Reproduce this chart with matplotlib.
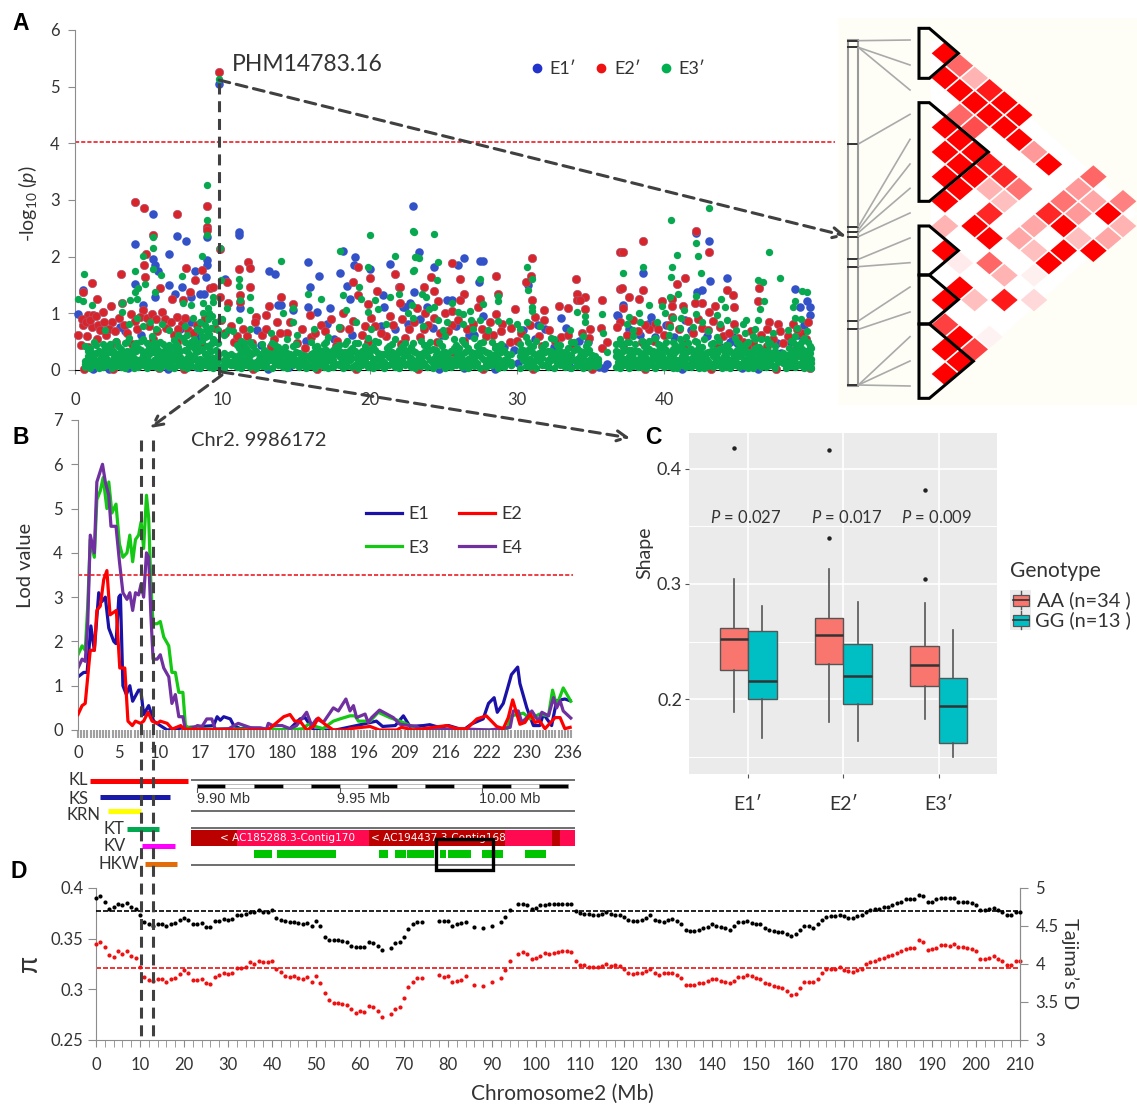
import matplotlib
matplotlib.use("Agg")
from matplotlib import pyplot as plt
from matplotlib.collections import PolyCollection
from matplotlib.patches import Polygon, Rectangle
from matplotlib.lines import Line2D
from matplotlib.ticker import MultipleLocator, FixedLocator

plt.rcParams['font.family'] = ['Lato', 'DejaVu Sans']
plt.rcParams['mathtext.fontset'] = 'custom'
plt.rcParams['mathtext.rm'] = 'Lato'
plt.rcParams['mathtext.it'] = 'Lato:italic'

W, H = 1137, 1107
GRAY = '#8c8c8c'
TXT = '#333333'
DASH = '#404040'
BLUE, RED, GREEN = '#3352c8', '#d8252b', '#07a84f'

# ---- panel A: manhattan, upper points read one by one
a_blue = [(9.78,5.04),(5.3,2.76),(6.9,2.36),(7.53,2.28),(4.07,2.22),(6.4,2.04),(8.94,2.35),(8.98,1.94),(8.98,1.85),
          (11.15,2.44),(11.15,2.38),(5.3,1.96),(5.43,1.85),(5.66,1.75),(8.14,1.75),(8.9,1.64),(4.07,1.52),(6.4,1.5),
          (7.24,1.46),(6.8,1.35),(5.4,1.29),(7.85,1.29),(8.5,1.34),(8.76,1.34),(10.2,1.6),(13.2,1.74),(13.6,1.69),
          (15.84,1.9),(16.6,1.66),(15.95,1.46),(18.2,2.1),(19,2),(18.94,1.85),(18,1.72),(20,1.78),(21.4,1.87),
          (22.96,2.9),(23.35,2.09),(18.44,1.48),(18.7,1.26),(20.9,1.32),(23,1.38),(14,1.15),(14.8,1.06),(15.84,1.12),
          (17.3,1.1),(16.4,1.03),(11.2,1.09),(.23,.98),(.57,1.41),(3.05,.76),(4.64,1.15),(13.8,1.15),(12.33,.7),
          (22.4,1.12),(21,1.12),(26.43,1.98),(26,1.86),(24.39,1.81),(27.49,1.92),(27.72,1.92),(27.42,1.56),
          (25.57,1.24),(25.23,1.24),(22.74,1.18),(22.29,1.12),(23.87,1.12),(27.72,.95),(30.77,1.5),(32.97,.92),
          (33.37,.75),(31.9,.72),(26.77,.62),(31.45,.79),(36.77,.97),(36.09,.1),(35.6,.06),(42.16,2.41),(43.06,2.28),
          (38.58,1.72),(43.11,1.57),(44.24,1.63),(42.54,1.41),(42.25,1.38),(48.88,1.43),(49.67,1.22),(49.89,1.11),
          (49.89,.97),(37.22,1.15),(36.89,.95),(39.08,.94),(49.22,1.12),(44.69,.59),(41.41,.88),(44.92,.48),(45.6,.41),
          (47.63,.47),(39.37,.59),(38.36,.62),(1.2,.02),(2.3,.01),(3.6,.03),(6.3,.02),(8.3,.06),(10.4,.12),(10.9,.09),
          (13.1,.02),(14.5,.05),(15.5,.15),(16.9,.3),(19.6,.24),(21.9,.1),(24.7,.02),(26.4,.03),(28.5,.02),(30.1,.12),
          (33.6,.06),(35.9,.04),(41.2,.02),(45.3,.03),(46.4,.02),(48.2,.2),(47.9,.3),(12.6,.45),(17.6,.55),(24.9,.62),
          (29.1,.4),(34.2,.52),(40.7,.58),(44.5,.5),(3.4,.68),(4.5,.62),(7.1,.72),(7.9,.85),(8.4,.58),(13.3,.42),
          (15.7,.52),(17.1,.82),(18.8,.62),(20.8,.78),(21.7,.72),(22.6,.82),(23.4,.9),(24.3,.74),(25.9,.78),(27.1,.62),
          (29.8,.35),(30.4,.7),(31.2,.55),(32.5,.4),(34.8,.5),(37.6,.72),(38.9,.82),(40.1,.8),(41.8,.7),(42.9,.6),
          (43.7,.42),(46.6,.36),(48.6,.5),(49.5,.8),(49.1,.62)]
a_red = [(9.78,5.26),(4.07,2.96),(4.7,2.86),(6.9,2.75),(8.94,2.9),(8.94,2.53),(8.94,2.47),(5.3,2.38),(9.84,2.13),
         (4.8,2.05),(4.7,1.85),(4.75,1.65),(3.1,1.7),(1.13,1.53),(.52,1.38),(1.47,1.26),(7.53,1.8),(8.6,1.76),
         (8.14,1.58),(11.76,1.91),(11.9,1.8),(11.15,1.78),(10.3,1.55),(11.88,1.47),(9.16,1.44),(9.4,1.46),(5.77,1.44),
         (6.56,1.26),(11.2,1.32),(11.2,1.2),(19.2,1.81),(20,1.62),(18.9,1.56),(21.7,1.69),(22,1.47),(20.5,1.39),
         (14,1.28),(14.8,1.16),(13.2,1.13),(9.84,1.28),(10.4,1.19),(2.44,1.13),(1.92,1.03),(3.2,1.19),(4.64,1.06),
         (.23,.62),(.9,.97),(1.24,.97),(.57,.79),(1.13,.76),(1.58,.79),(2.49,.85),(7.24,.82),(6.9,.94),(7.35,1.24),
         (7.8,1.38),(13,.97),(13.7,.85),(19.9,1.16),(21.4,.95),(16.7,.79),(15.95,.97),(19.2,1.32),(12.3,.94),
         (12.2,.85),(18.2,1.0),(25.57,1.88),(28.58,1.66),(26.13,1.61),(24.14,1.65),(23.69,1.47),(24.39,1.4),
         (26.43,1.35),(31,1.97),(30.95,1.66),(30.6,1.56),(28.73,1.34),(24.66,1.22),(26.13,1.24),(27.49,1.25),
         (27.33,1.12),(29.87,1.08),(31,1.24),(31.83,1.06),(32.87,1.13),(33.44,1.09),(34,1.61),(34.05,1.35),
         (34.05,1.24),(34.6,1.28),(34.28,1.24),(34.6,1.07),(35.75,1.24),(37,2.08),(37,1.43),(31.83,.89),(31.22,.94),
         (28.58,.99),(25.1,1),(25.57,1.05),(25.57,.79),(23.19,1.09),(23.76,1),(22.06,1.47),(22.06,1.19),(35.68,.75),
         (36.13,.5),(35.75,.38),(34.96,.73),(29.53,.5),(29.6,.74),(25.57,.31),(28.4,.62),(22.4,.56),(23.42,.59),
         (42.16,2.46),(38.58,2.28),(37.18,2.08),(43.06,2.08),(40.84,1.51),(41.41,1.63),(37.13,1.44),(38.54,1.41),
         (44.24,1.42),(46.46,1.45),(37.61,1.29),(38.31,1.25),(39.83,1.22),(40.51,1.26),(40.51,1.13),(44.69,1.32),
         (42.54,1.19),(42.09,1.19),(41.3,1.13),(43.45,1.13),(44.76,1.12),(46.34,1.22),(43.06,1.02),(37.22,1.09),
         (40.51,.93),(47.13,.84),(47.75,.82),(44.74,.82),(37,.84),(49.78,.84),(46.95,.72),(48.76,.82),(39.37,.82),
         (38.24,.68),(47.86,.68),(36.77,.76),(43.79,.76),(46.05,.48),(45.37,.5),(38.47,.5),(41.98,.65),
         (.4,.45),(.8,.6),(1.5,.55),(2.1,.62),(2.8,.5),(3.5,.66),(4.2,.72),(5.0,.78),(5.6,.68),(6.2,.74),(6.7,.62),
         (7.7,.7),(8.3,.8),(9.5,.75),(10.8,.5),(11.4,.72),(12.7,.62),(13.5,.55),(14.4,.66),(15.1,.48),(16.0,.58),
         (17.0,.68),(17.8,.52),(18.6,.72),(19.5,.62),(20.4,.78),(21.1,.6),(22.7,.72),(24.0,.8),(24.8,.66),(26.6,.72),
         (27.9,.6),(29.0,.82),(30.3,.66),(32.2,.7),(33.0,.58),(34.4,.66),(37.5,.62),(39.0,.72),(40.0,.62),(42.6,.75),
         (44.0,.6),(45.9,.68),(48.4,.6),(49.3,.66),(.6,.02),(2.6,.01),(5.7,.03),(7.4,.02),(12.1,.02),(16.4,.02),
         (19.1,.02),(23.3,.01),(27.7,.01),(31.1,.02),(35.1,.02),(38.7,.02),(43.2,.01),(47.6,.02),(49.9,.03),
         (.5,.9),(.75,.85),(1.0,.88),(1.4,.95),(1.7,.7),(2.0,.85),(2.3,.72),(2.7,.68),(3.0,.92),(3.3,.8),(3.8,.98),
         (4.1,.86),(4.4,.94),(4.9,.92),(5.2,.98),(5.5,.9),(5.9,1.02),(6.1,.9),(6.5,.84),(7.0,.72),(7.5,.92),(8.0,.66),
         (8.8,.92),(9.9,.88),(10.2,.66),(10.6,.78),(11.0,.6),(11.7,.6),(12.0,.48),(13.0,.72),(13.9,.66),(14.6,.84),
         (15.4,.72),(16.3,.66),(17.4,.9),(18.0,.74),(18.9,.86),(19.7,.78),(20.1,.92),(20.8,.66),(21.6,.8),(22.2,.9),
         (23.0,.85),(23.7,.72),(24.4,.92),(25.3,.68),(26.0,.88),(27.0,.82),(27.6,.72),(28.2,.84),(28.9,.68),(30.0,.52),
         (30.9,.8),(31.5,.6),(32.6,.52),(33.5,.62),(34.9,.56),(37.9,.88),(38.7,.8),(39.6,.72),(40.3,.8),(41.0,.72),
         (41.6,.86),(42.3,.9),(43.0,.7),(43.3,.86),(44.4,.66),(45.0,.56),(46.6,.62),(47.4,.55),(48.1,.48),(49.0,.72),
         (49.6,.55),(.9,.4),(2.4,.42),(3.9,.46),(5.3,.55),(6.9,.5),(8.6,.44),(11.2,.42),(13.3,.4),(15.6,.38),(17.7,.42),
         (19.9,.5),(22.1,.46),(24.6,.5),(26.4,.52),(28.6,.4),(31.7,.42),(33.8,.4),(37.2,.45),(39.3,.52),(41.4,.46),
         (43.6,.45),(45.6,.4),(47.0,.42),(49.0,.42)]
a_green = [(9.78,5.13),(8.94,3.26),(8.94,2.65),(8.94,2.38),(5.3,2.35),(5.3,2.16),(9.84,2.15),(8.64,2.01),(4.64,2.01),
           (5.27,1.79),(5.81,1.68),(7.24,1.66),(4.07,1.75),(.63,1.69),(.23,1.26),(.52,1.21),(1.13,1.15),(4.75,1.52),
           (9.9,1.59),(11.15,1.6),(11.15,1.48),(11.2,1.24),(11.9,1.28),(14,1.93),(18,2.1),(19.9,1.81),(20,2.38),
           (21.7,2.01),(23,2.44),(23,1.76),(23.1,1.99),(15.84,1.34),(16.7,1.25),(18.2,1.32),(19.3,1.47),(19.4,1.26),
           (20.4,1.24),(22,1.35),(21.4,1.29),(4.07,1.38),(4.3,1.44),(5.43,1.38),(3.17,1.18),(3.73,1.24),(4.19,1.26),
           (3.17,1.03),(7.35,1.18),(7.9,1.15),(8.7,1.18),(9.4,1.29),(14.1,1.0),(14.8,1.09),(14.8,.85),(11.15,.88),
           (11.9,1.06),(18.4,1.06),(19.9,1.03),(20.6,1.07),(2.04,.71),(8.9,.7),(9,.9),(9,1.1),(8.8,.8),(9.1,1.0),
           (9.2,.75),(10,.9),(10.3,1.1),(10.4,.7),(8.7,1.0),(8.6,.6),(9.4,1.2),(8.5,.85),(9.3,.95),
           (22.96,2.45),(24.39,2.4),(23.12,2.0),(23.35,1.98),(24.62,1.9),(22.96,1.75),(24.59,1.59),(27.49,1.61),
           (30.66,1.82),(31,1.61),(30.73,1.42),(23.53,1.35),(23.82,1.28),(28.73,1.31),(28.73,1.21),(27.67,1.16),
           (25.57,1.18),(22.85,1.15),(24.05,1.07),(24.39,1.12),(26.81,1.05),(26,1.03),(26.36,.99),(31,1.12),(31,1.05),
           (35.75,.99),(34.05,1.03),(34.6,.95),(34.6,.85),(29.48,.87),(29.98,.81),(26.86,.88),(28.73,.87),(27.49,.89),
           (24.66,.88),(22.63,1),(22.96,.91),(30.66,.84),(28.06,.71),(26.31,.82),(25.23,.85),(32.35,.56),(35.86,.65),
           (36.13,.32),(34.84,.47),(43.06,2.86),(40.44,2.64),(42.16,2.25),(40.84,2.03),(42.27,2.01),(47.09,2.09),
           (37.18,1.72),(38.58,1.81),(40.51,1.81),(40.46,1.64),(42.52,1.71),(47.86,1.63),(46.34,1.58),(46.68,1.56),
           (49.33,1.4),(49.67,1.37),(40.96,1.34),(40.39,1.29),(42.16,1.31),(43.83,1.26),(46.79,1.22),(48.88,1.21),
           (38.99,1.14),(39.83,1.13),(44.12,1.12),(43.56,.97),(41.34,1.06),(40.05,1),(38.31,1.01),(37.61,.94),
           (44.24,.88),(45.55,.89),(45.37,.81),(46.5,1.07),(46.39,.88),(48.76,1.11),(48.88,.91),(42.16,.99),(41.12,.91),
           (38.36,.85),(43.79,.82),(46.16,.72),(37.45,.82),(45.48,.65),(49,.74),(40.39,.76),(41.07,.75),(47.4,.65),
           (49.67,.68),(41.98,.76),(42.99,.68),
           (3.7,.82),(4.2,.92),(4.6,.78),(5.1,.85),(5.5,.72),(5.9,.82),(6.4,.7),(7.0,.62),(7.5,.78),(8.0,.92),(8.3,.72),
           (9.5,.85),(9.7,.7),(10.1,.62),(10.7,.68),(11.9,.72),(13.3,.66),(15.1,.62),(16.2,.72),(17.9,.76),(19.1,.85),
           (20.1,.72),(21.1,.82),(23.6,.78),(25.0,.7),(27.0,.72),(30.2,.72),(31.6,.78),(33.6,.7),(37.9,.7),(39.5,.85),
           (40.6,.92),(42.6,.85),(44.9,.7),(47.0,.55),(48.4,.7),(49.3,.9)]

# dense green base of the cloud, several heights at each position
base_x = [0.7,1.0,1.3,1.6,1.9,2.2,2.5,2.8,3.1,3.4,
          3.7,4.0,4.3,4.6,4.9,5.2,5.5,5.8,6.1,6.4,
          6.7,7.0,7.3,7.6,7.9,8.2,8.5,8.8,9.1,9.4,
          9.7,10.1,10.6,11.0,11.3,11.6,11.9,12.3,12.7,13.0,
          13.4,13.8,14.1,14.4,14.8,15.2,15.7,16.0,16.3,16.6,
          16.9,17.2,17.5,17.9,18.2,18.5,18.8,19.2,19.5,19.9,
          20.2,20.6,21.0,21.3,21.7,22.0,22.4,22.8,23.1,23.5,
          23.9,24.3,24.7,25.1,25.5,25.9,26.3,26.7,27.1,27.5,
          27.9,28.3,28.7,29.1,29.6,30.2,30.6,30.9,31.3,31.7,
          32.1,32.5,32.9,33.3,33.7,34.1,34.5,34.9,35.3,36.7,
          37.0,37.3,37.6,37.9,38.2,38.5,38.8,39.1,39.4,39.7,
          40.0,40.3,40.6,40.9,41.2,41.5,41.8,42.1,42.4,42.7,
          43.0,43.3,43.6,43.9,44.2,44.5,44.8,45.1,45.4,45.7,
          46.0,46.3,46.6,46.9,47.2,47.5,48.3,48.6,48.9,49.2,
          49.5,49.8,50.0]
base_low = [.05,.03,.08,.04,.06,.09,.03,.07,.05,.04,
            .08,.03,.06,.09,.04,.07,.05,.03,.08,.06,
            .04,.09,.05,.03,.07,.06,.04,.08,.05,.03,
            .07,.04,.09,.05,.03,.08,.06,.04,.07,.05,
            .03,.08,.06,.04,.09,.05,.03,.07,.04,.08,
            .05,.03,.06,.09,.04,.07,.05,.03,.08,.06,
            .04,.07,.03,.09,.05,.04,.08,.06,.03,.07,
            .05,.04,.09,.03,.06,.08,.05,.04,.07,.03,
            .06,.09,.04,.05,.08,.03,.07,.05,.04,.09,
            .06,.03,.08,.05,.04,.07,.03,.06,.09,.05,
            .04,.08,.03,.07,.05,.06,.04,.09,.03,.08,
            .05,.07,.04,.03,.09,.06,.05,.08,.04,.03,
            .07,.05,.09,.04,.06,.03,.08,.05,.07,.04,
            .03,.09,.06,.05,.08,.04,.03,.07,.05,.09,
            .04,.06,.03]
base_mid = [.16,.22,.27,.18,.24,.2,.15,.28,.19,.25,
            .3,.21,.17,.26,.23,.31,.19,.27,.22,.16,
            .29,.24,.18,.33,.25,.2,.36,.28,.31,.22,
            .26,.17,.14,.23,.29,.2,.26,.15,.24,.18,
            .27,.21,.16,.3,.23,.17,.13,.28,.22,.19,
            .26,.31,.18,.24,.16,.29,.21,.27,.17,.25,
            .2,.3,.15,.23,.28,.18,.26,.21,.16,.29,
            .24,.19,.27,.32,.17,.23,.28,.2,.3,.25,
            .16,.26,.22,.18,.15,.24,.3,.19,.27,.21,
            .17,.29,.23,.16,.26,.2,.31,.18,.13,.24,
            .28,.19,.25,.3,.17,.27,.22,.16,.29,.23,
            .2,.3,.26,.18,.24,.31,.19,.27,.21,.28,
            .16,.25,.3,.2,.23,.17,.29,.24,.18,.26,
            .31,.21,.28,.16,.25,.22,.14,.27,.3,.24,
            .29,.26,.2]
base_high = [.42,.38,.5,.33,.46,.41,.35,.52,.37,.48,
             .57,.44,.39,.55,.47,.6,.42,.5,.36,.45,
             .53,.41,.56,.62,.49,.43,.68,.58,.64,.55,
             .47,.3,.28,.44,.52,.39,.5,.34,.46,.31,
             .48,.4,.33,.54,.42,.3,.25,.5,.41,.36,
             .46,.58,.35,.44,.3,.52,.38,.48,.33,.56,
             .4,.5,.29,.43,.55,.36,.47,.41,.31,.52,
             .45,.37,.5,.6,.33,.44,.53,.39,.56,.47,
             .32,.5,.43,.35,.28,.46,.58,.38,.52,.41,
             .34,.55,.45,.31,.5,.38,.6,.35,.24,.46,
             .54,.37,.49,.6,.33,.52,.43,.31,.56,.45,
             .38,.62,.5,.35,.46,.58,.37,.52,.4,.55,
             .31,.48,.58,.38,.44,.33,.56,.46,.35,.5,
             .6,.4,.54,.31,.48,.42,.27,.52,.6,.46,
             .56,.5,.38]
base_extra = [.11,.14,.17,.12,.3,.14,.1,.18,.29,.15,
              .19,.34,.12,.17,.33,.14,.3,.16,.13,.31,
              .19,.33,.12,.22,.16,.32,.2,.18,.21,.13,
              .17,.11,.08,.14,.19,.3,.16,.1,.15,.12,
              .18,.32,.11,.2,.15,.11,.07,.19,.32,.13,
              .17,.21,.11,.33,.1,.2,.31,.18,.11,.36,
              .13,.2,.09,.32,.19,.12,.35,.14,.1,.2,
              .34,.13,.18,.22,.11,.33,.19,.13,.21,.35,
              .11,.18,.32,.12,.09,.34,.2,.12,.18,.31,
              .11,.2,.34,.1,.18,.13,.21,.11,.07,.33,
              .19,.12,.36,.21,.11,.18,.32,.1,.2,.34,
              .13,.21,.37,.12,.33,.21,.12,.18,.32,.2,
              .11,.34,.21,.13,.33,.11,.2,.35,.12,.18,
              .22,.32,.2,.11,.17,.33,.09,.18,.21,.35,
              .2,.18,.13]
# second set of cloud positions between the first
fill_x = [.85,1.15,1.45,1.75,2.05,2.35,2.65,2.95,3.25,3.55,
          3.85,4.15,4.45,4.75,5.05,5.35,5.65,5.95,6.25,6.55,
          6.85,7.15,7.45,7.75,8.05,8.35,8.65,8.95,9.25,9.55,
          10.3,10.8,11.15,11.45,11.75,12.1,12.5,12.85,13.2,13.6,
          13.95,14.25,14.6,15,15.45,16.15,16.45,16.75,17.05,17.35,
          17.7,18.05,18.35,18.65,19,19.35,19.7,20.05,20.4,20.8,
          21.15,21.5,21.85,22.2,22.6,22.95,23.3,23.7,24.1,24.5,
          24.9,25.3,25.7,26.1,26.5,26.9,27.3,27.7,28.1,28.5,
          28.9,29.35,30.4,30.75,31.1,31.5,31.9,32.3,32.7,33.1,
          33.5,33.9,34.3,34.7,35.1,36.85,37.15,37.45,37.75,38.05,
          38.35,38.65,38.95,39.25,39.55,39.85,40.15,40.45,40.75,41.05,
          41.35,41.65,41.95,42.25,42.55,42.85,43.15,43.45,43.75,44.05,
          44.35,44.65,44.95,45.25,45.55,45.85,46.15,46.45,46.75,47.05,
          47.35,48.45,48.75,49.05,49.35,49.65,49.9,48.1,47.7,35.5]
fill_low = [.12,.09,.14,.17,.1,.13,.18,.11,.15,.08,
            .16,.12,.19,.1,.14,.17,.09,.13,.16,.11,
            .18,.12,.09,.15,.19,.11,.14,.17,.1,.13,
            .11,.08,.16,.12,.18,.1,.14,.09,.17,.11,
            .15,.13,.1,.18,.12,.09,.16,.11,.14,.18,
            .1,.15,.12,.17,.09,.13,.16,.11,.19,.12,
            .09,.15,.11,.17,.13,.1,.16,.12,.18,.09,
            .14,.11,.17,.13,.1,.16,.12,.19,.09,.15,
            .11,.14,.17,.1,.13,.16,.09,.18,.12,.15,
            .1,.17,.13,.11,.08,.15,.12,.18,.1,.14,
            .16,.09,.13,.19,.11,.15,.12,.17,.1,.14,
            .18,.09,.13,.16,.11,.17,.1,.14,.12,.18,
            .09,.15,.13,.11,.17,.1,.16,.12,.14,.18,
            .09,.13,.17,.11,.15,.1,.16,.12,.14,.08]
fill_mid = [.24,.2,.3,.22,.27,.32,.23,.28,.21,.34,
            .26,.33,.36,.21,.28,.35,.24,.31,.22,.27,
            .33,.23,.36,.29,.38,.34,.37,.42,.33,.35,
            .18,.16,.27,.32,.24,.3,.2,.25,.22,.31,
            .25,.28,.2,.32,.19,.21,.29,.24,.35,.2,
            .28,.23,.32,.26,.34,.22,.29,.24,.36,.2,
            .27,.32,.21,.3,.24,.34,.2,.31,.35,.26,
            .3,.22,.38,.27,.32,.23,.3,.35,.22,.27,
            .32,.2,.26,.35,.3,.22,.32,.25,.31,.22,
            .27,.35,.24,.3,.18,.23,.31,.35,.26,.33,
            .22,.3,.37,.24,.33,.27,.35,.22,.31,.38,
            .26,.34,.23,.35,.29,.22,.33,.26,.37,.24,
            .31,.22,.35,.27,.33,.23,.38,.29,.24,.33,
            .22,.27,.35,.31,.37,.25,.3,.22,.2,.14]
fill_high = [.34,.3,.44,.28,.38,.46,.32,.42,.3,.5,
             .36,.48,.52,.32,.42,.5,.36,.46,.31,.4,
             .46,.34,.5,.42,.55,.48,.52,.6,.46,.5,
             .26,.24,.38,.47,.33,.42,.28,.36,.3,.44,
             .35,.4,.29,.46,.26,.3,.42,.34,.5,.28,
             .4,.32,.46,.36,.48,.3,.42,.34,.52,.28,
             .38,.46,.3,.42,.34,.48,.28,.44,.5,.36,
             .42,.3,.54,.38,.46,.32,.42,.5,.3,.38,
             .46,.28,.36,.5,.42,.3,.46,.34,.44,.3,
             .38,.5,.34,.42,.26,.32,.44,.5,.36,.46,
             .3,.42,.52,.34,.46,.38,.5,.3,.44,.54,
             .36,.48,.32,.5,.4,.3,.46,.36,.52,.33,
             .44,.3,.5,.38,.46,.32,.54,.4,.34,.46,
             .3,.38,.5,.44,.52,.34,.42,.3,.28,.2]
a_xticks = [0, 10, 20, 30, 40]

# ---- LD heat map: checker positions and strength of each diamond
ld_col = [0,1,0,2,1,3,2,4,1,3,5,0,2,4,1,5,0,2,6,1,3,7,0,2,4,10,1,3,5,9,0,4,8,10,12,3,7,9,11,0,2,6,8,12,3,5,9,11,
          0,6,8,10,1,3,7,4,6,1,0,2,4,6,0,1,3,0,2,1,0]
ld_row = [0,1,2,2,3,3,4,4,5,5,5,6,6,6,7,7,8,8,8,9,9,9,10,10,10,10,11,11,11,11,12,12,12,12,12,13,13,13,13,14,14,14,14,14,
          15,15,15,15,16,16,16,16,17,17,17,18,18,19,20,20,20,20,22,23,23,24,24,25,26]
ld_val = [1,.6,1,.3,1,.9,1,1,.6,1,1,1,.7,1,1,1,1,1,.4,1,.9,1,1,1,.85,.6,1,.3,.55,.4,1,.25,.55,.35,.5,.85,.85,.4,1,
          .3,1,.35,1,.3,1,.35,.25,.35,1,.25,1,1,.08,.6,1,.3,.06,1,1,.25,.9,.15,.75,1,.05,1,.75,1,1]
ld_snp_start = [92,112,112,402,650,660,668,680,748,770,933,958,1125,1125,1125]
ld_snp_end = [90,165,240,313,388,462,535,609,684,758,831,906,980,1053,1128]
ld_marks = [92,110,402,650,665,680,748,770,933,958,1125]

# ---- panel B: LOD traces along a marker index
b_labels = ['0','5','10','17','170','180','188','196','209','216','222','230','236']
b_ticks = [0,13,26,39,52,65,78,91,104,117,130,143,156]
e1_x = [0,1.8,2.9,4.1,5.2,6.6,7.6,8.7,9.8,11.4,12.1,13,13.5,14.3,15.4,16.5,17.4,19.3,20,20.9,22.5,24.1,26.2,28.4,
        33.7,43.2,44.3,45.3,46.4,48.5,49.6,51.7,54,60,62,64,67.5,70.7,72.3,75,82,88.7,95,97,101,103.6,105.7,110,112,
        115,118,122.7,125.4,129,130.7,132.5,133.5,135.4,136.7,138,140,140.7,142.9,145,147,148.2,150.8,152.4,155,156.7]
e1_y = [1.2,1.3,1.3,2.35,1.8,3.1,2.9,3.0,2.3,2.0,1.95,3.0,3.05,1.0,.8,1.0,.65,.9,.9,.35,.55,.2,.1,0,.05,.1,.3,.22,.3,
        .25,.1,.03,.05,0,.02,0,.03,.25,.28,0,0,.1,.2,.08,.1,.32,.08,.1,.12,.06,.1,0,.14,.25,.6,.73,.4,.6,.92,1.25,1.42,
        1.05,.5,.1,.1,.36,.1,.66,.7,.66]
e2_x = [0,1.3,2.3,3.9,5.2,6,7.1,8.2,9.2,10.2,12.2,13.3,14.9,15.9,17.3,18.3,19.9,20.9,22.3,23.6,25.2,26.2,28.4,30,32.7,
        33.7,52,60,61.3,65.5,67.5,69,70.7,72.8,75,76.5,78.6,81.3,85.5,86.6,93,96,101.5,103,106.8,117.4,120.6,123.8,127,
        130,133.3,135.4,137,138.4,140.7,142.3,144,145.5,147,148.7,151.9,153.5,155,156.7]
e2_y = [.35,.55,.6,1.8,1.8,2.7,2.8,3.4,3.6,2.6,2.7,1.4,1.4,.2,.1,.2,.15,.2,.4,.2,.15,.2,.15,.02,.1,.02,0,0,.05,.3,.35,
        .2,.2,0,.08,.27,.13,0,0,.03,.08,0,0,.06,0,.1,.03,.03,.25,.32,.08,.03,.28,.68,.13,.17,.36,.17,.2,.03,.28,.28,.03,.06]
e3_x = [0,1.3,2.3,3.1,3.9,5.2,6,7.1,8,9.2,9.8,10.8,12.1,13.2,14.3,15.6,16.5,17.4,18.3,19.3,20.1,20.9,21.8,22.5,23.2,
        23.9,25.2,26.2,27.3,28.9,29.9,31,32.1,33.4,34.2,35.2,40,60,67.5,71.7,73.3,78,81.3,83.4,86.6,88.2,89.3,93,95.6,
        99.3,103.6,107.8,124.8,136.5,138,141.8,144,147,149.8,151.1,152.4,154.5,156.9]
e3_y = [1.7,1.9,1.8,2.8,4.3,3.9,5.2,5.4,5.7,5.0,5.6,4.9,5.1,4.2,3.9,4.0,4.4,3.8,4.3,4.4,4.7,4.1,5.3,4.8,3.3,2.4,2.4,
        2.45,2.1,1.9,1.3,1.3,.85,.85,.1,.05,.02,.02,0,.03,.13,.03,.2,.25,.32,.32,.2,.2,.4,.28,.17,.03,0,0,.32,.38,.25,
        .36,.32,.9,.55,.95,.65]
e4_x = [0,1.3,2.3,3.1,3.9,5.2,6,6.9,7.8,8.7,9.8,10.5,12.1,13.2,14.3,15.6,16.5,17.4,18.3,19.3,20.1,20.9,21.8,22.5,23.2,
        23.9,25.2,26.2,27.3,28.9,29.9,31,32.1,33.4,34.2,36.3,38,39.5,41,42.6,43.7,48,51,53,55,58,60,60.6,62,65,67.5,
        69.6,72.8,74.4,76,78.1,81.3,82.9,85.3,86.6,87.7,88.7,91.4,92.4,93.5,96,100.4,102.5,107.8,109.4,123.8,131,137.6,
        138.6,140.2,141.3,142.9,144.5,146.6,147.7,149.8,151.4,152.4,153.5,154.5,156.9]
e4_y = [1.4,1.6,1.55,2.4,4.4,4.0,5.6,5.8,6.0,5.6,5.3,4.6,4.6,3.8,3.1,2.95,3.1,2.7,3.1,3.05,3.3,3.0,4.0,3.9,2.6,1.6,1.6,
        1.7,1.4,1.2,.6,.8,.3,.3,0,.02,.1,.08,.25,.25,.02,.03,.15,.1,.05,.05,.02,.15,.1,.1,.03,.1,.4,.1,.25,.17,.5,.43,.7,
        .43,.55,.28,.36,.17,.28,.45,.28,.13,.08,0,.02,0,.06,.43,.43,.17,.28,.43,.2,.4,.32,.73,.5,.66,.43,.27]
b_thresh = 3.5

# QTL intervals on the same marker index
qtl_names = ['KL','KS','KRN','KT','KV','HKW']
qtl_start = [3.8,7,9.6,15.6,20.4,21.3]
qtl_end = [35,29.3,20,25.8,30.9,31.5]
qtl_colors = ['#ff0000','#1a1aa8','#ffff00','#00a850','#ff00ff','#e36c0a']

# genome browser, Mb
ruler_edges = [9.90,9.91,9.92,9.93,9.94,9.95,9.96,9.97,9.98,9.99,10.00,10.01,10.02,10.03]
contig_dark = [(9.89,9.9139),(9.9602,10.0082),(10.0245,10.0274)]
exon_start = [9.9199,9.9280,9.9640,9.9694,9.9735,9.9854,9.9882,10.0000,10.0151]
exon_end = [9.9262,9.9486,9.9670,9.9732,9.9830,9.9874,9.9960,10.0073,10.0224]

# ---- panel C: box statistics
env_labels = ["E1\u2032", "E2\u2032", "E3\u2032"]
aa_q1 = [.2252,.2304,.2116]
aa_med = [.2518,.2556,.2295]
aa_q3 = [.2617,.2703,.246]
aa_lo = [.189,.18,.183]
aa_hi = [.3045,.3132,.2836]
aa_out = [[.418],[.4165,.34],[.3815,.3045]]
gg_q1 = [.2,.1954,.162]
gg_med = [.216,.2197,.194]
gg_q3 = [.2593,.2475,.2182]
gg_lo = [.166,.164,.1496]
gg_hi = [.2805,.284,.26]
gg_out = [[],[],[]]
p_text = ["0.027", "0.017", "0.009"]

# ---- panel D
d_mb = (list(range(0, 66)) + list(range(67, 75)) + list(range(78, 85)) + [86, 88, 90, 92, 93, 94]
        + list(range(96, 211)))
d_pi = [.345,.347,.342,.334,.332,.338,.335,.338,.333,.331,
        .322,.312,.309,.308,.310,.310,.307,.310,.311,.315,
        .319,.316,.309,.309,.310,.306,.305,.312,.314,.316,
        .315,.316,.321,.321,.322,.327,.325,.328,.327,.327,
        .328,.320,.317,.313,.312,.313,.311,.310,.312,.307,
        .313,.306,.296,.289,.287,.287,.286,.285,.281,.277,
        .279,.278,.284,.283,.279,.273,
        .276,.281,.283,.291,.302,.307,.311,.311,
        .314,.312,.313,.307,.308,.309,.313,
        .304,.303,.307,.311,.319,.328,
        .335,.337,.335,.330,
        .331,.333,.336,.335,.336,.337,.338,.338,.337,.328,
        .324,.324,.322,.322,.322,.323,.325,.323,.324,.323,
        .320,.316,.315,.316,.316,.318,.320,.316,.314,.316,
        .316,.316,.314,.311,.304,.304,.304,.306,.306,.308,
        .310,.310,.308,.307,.306,.308,.312,.312,.314,.313,
        .311,.310,.306,.305,.303,.302,.301,.298,.294,.295,
        .301,.307,.307,.307,.310,.316,.320,.320,.320,.322,
        .319,.318,.317,.319,.320,.325,.327,.328,.330,.331,
        .333,.334,.336,.338,.340,.341,.341,.349,.347,.339,
        .340,.341,.344,.344,.343,.345,.342,.342,.341,.340,
        .338,.330,.330,.331,.333,.330,.328,.324,.324,.328,.328]
d_taj = [4.87,4.89,4.82,4.72,4.75,4.79,4.78,4.80,4.75,4.72,
         4.65,4.55,4.52,4.50,4.53,4.53,4.50,4.53,4.54,4.58,
         4.60,4.58,4.52,4.52,4.54,4.49,4.49,4.56,4.57,4.59,
         4.58,4.59,4.64,4.64,4.66,4.68,4.68,4.71,4.69,4.69,
         4.71,4.61,4.58,4.56,4.55,4.55,4.54,4.53,4.54,4.50,
         4.57,4.50,4.36,4.32,4.31,4.31,4.30,4.29,4.24,4.22,
         4.23,4.23,4.29,4.28,4.24,4.19,
         4.21,4.27,4.29,4.36,4.46,4.52,4.55,4.55,
         4.57,4.56,4.56,4.50,4.52,4.54,4.55,
         4.49,4.47,4.50,4.55,4.62,4.71,
         4.79,4.79,4.77,4.72,
         4.74,4.77,4.78,4.79,4.79,4.79,4.79,4.79,4.79,4.70,
         4.67,4.66,4.66,4.65,4.65,4.66,4.68,4.66,4.65,4.64,
         4.62,4.58,4.57,4.57,4.58,4.60,4.64,4.58,4.56,4.55,
         4.58,4.59,4.56,4.52,4.45,4.43,4.43,4.45,4.47,4.49,
         4.52,4.50,4.49,4.47,4.45,4.50,4.55,4.55,4.56,4.54,
         4.53,4.53,4.47,4.45,4.44,4.42,4.42,4.39,4.37,4.39,
         4.45,4.50,4.50,4.48,4.52,4.58,4.62,4.63,4.63,4.65,
         4.63,4.61,4.61,4.63,4.64,4.69,4.71,4.72,4.73,4.75,
         4.75,4.78,4.80,4.82,4.85,4.85,4.86,4.91,4.90,4.82,
         4.82,4.85,4.87,4.87,4.87,4.87,4.82,4.82,4.81,4.80,
         4.78,4.71,4.71,4.73,4.74,4.71,4.69,4.65,4.64,4.69,4.69]
d_pi_mean = 0.3206
d_taj_mean = 4.70
d_pi_ticks = [0.25, 0.3, 0.35, 0.4]
d_pi_labels = ['0.25', '0.3', '0.35', '0.4']
d_taj_ticks = [3, 3.5, 4, 4.5, 5]
d_taj_labels = ['3', '3.5', '4', '4.5', '5']


# axes from pixel box of the reference
def px_axes(left, top, right, bottom, **kw):
    return fig.add_axes([left / W, 1 - bottom / H, (right - left) / W, (bottom - top) / H], **kw)


def gray_spines(ax, keep):
    for k, s in ax.spines.items():
        s.set_visible(k in keep)
        s.set_color(GRAY)


def xy(points):
    return [p[0] for p in points], [p[1] for p in points]


fig = plt.figure(figsize=(W / 100, H / 100), dpi=100, facecolor='white')

# panel A
ax_a = px_axes(75, 30, 835, 370)
ax_a.set_xlim(0, 51.6)
ax_a.set_ylim(0, 6)
gray_spines(ax_a, ['left', 'bottom'])
ax_a.spines['bottom'].set_color('black')
ax_a.spines['bottom'].set_bounds(0, 50)
ax_a.set_xticks(a_xticks)
ax_a.set_yticks(range(7))
ax_a.tick_params(axis='y', length=5, color=GRAY, labelsize=12, labelcolor=TXT, pad=6)
ax_a.tick_params(axis='x', length=3, color=GRAY, labelsize=12, labelcolor=TXT, pad=13)
ax_a.scatter(*xy(a_blue), s=38, color=BLUE, linewidths=0, clip_on=False, zorder=3)
ax_a.scatter(*xy(a_red), s=36, color=RED, edgecolors='#b0506a', linewidths=0.5, clip_on=False, zorder=4)
ax_a.scatter(*xy(a_green), s=28, color=GREEN, linewidths=0, clip_on=False, zorder=5)
for ys in (base_low, base_mid, base_high, base_extra):
    ax_a.scatter(base_x, ys, s=28, color=GREEN, linewidths=0, clip_on=False, zorder=5)
for ys in (fill_low, fill_mid, fill_high):
    ax_a.scatter(fill_x, ys, s=28, color=GREEN, linewidths=0, clip_on=False, zorder=5)
ax_a.axhline(4.03, color='#ee1c25', lw=1.2, ls=(0, (2.5, 1.2)), zorder=2)
ax_a.set_ylabel('-log$_{10}$ ($p$)', fontsize=14, color=TXT, labelpad=4)
ax_a.yaxis.set_label_coords(-0.047, 0.49)
ax_a.text(232 / 14.73 - 75 / 14.73, 5.39, 'PHM14783.16', fontsize=16.5, color=TXT, va='center')
a_handles = [Line2D([], [], marker='o', ls='', ms=6, color=c) for c in ('#2233cc', '#ee1111', '#00b050')]
ax_a.legend(a_handles, env_labels, loc='center', bbox_to_anchor=(0.7125, 0.885), ncol=3, frameon=False, fontsize=13,
            handlelength=1, handletextpad=0.2, columnspacing=0.9, labelcolor=TXT)

# LD block, axes units are a 3x pixel grid of the inset
ax_ld = px_axes(838, 18, 1137, 405)
ax_ld.set_xlim(24, 921)
ax_ld.set_ylim(1185, 24)
ax_ld.axis('off')
ax_ld.add_patch(Rectangle((24, 24), 897, 1161, color='#fefef7', zorder=0))
ax_ld.add_patch(Polygon([(305, 95), (345, 95), (921, 610), (345, 1130), (305, 1130)], color='white', zorder=1))
verts = []
colors = []
for c, r, v in zip(ld_col, ld_row, ld_val):
    cx = 345 + 44.5 * c
    cy = 130 + 37 * r
    verts.append([(cx - 40, cy), (cx, cy - 34), (cx + 40, cy), (cx, cy + 34)])
    colors.append((1, 1 - v, 1 - v))
ax_ld.add_collection(PolyCollection(verts, facecolors=colors, edgecolors='none', zorder=2))
for top, bot, tipx in [(55, 205, 385), (278, 574, 475), (648, 795, 385), (795, 942, 385), (942, 1165, 430)]:
    mid = (top + bot) / 2
    ax_ld.add_patch(Polygon([(298, top), (267, top), (267, bot), (298, bot), (tipx, mid)], fill=False, ec='black',
                            lw=2.2, zorder=3))
ax_ld.add_patch(Rectangle((55, 90), 30, 1038, fill=False, ec='#999999', lw=1.5, zorder=3))
for y0 in ld_marks:
    ax_ld.plot([55, 85], [y0, y0], color='#333333', lw=1.4, zorder=3)
for y0, y1 in zip(ld_snp_start, ld_snp_end):
    ax_ld.plot([85, 240], [y0, y1], color='#aaaaaa', lw=1.2, zorder=3)

# panel B
ax_b = px_axes(78, 420, 578, 730)
ax_b.set_xlim(0, 159.2)
ax_b.set_ylim(0, 7)
gray_spines(ax_b, ['left'])
ax_b.set_xticks(b_ticks)
ax_b.set_xticklabels(b_labels)
ax_b.xaxis.set_minor_locator(FixedLocator(list(range(158))))
ax_b.tick_params(axis='x', which='both', length=6, width=1.5, color='#a0a0a0', labelsize=12, labelcolor=TXT, pad=5)
ax_b.tick_params(axis='y', length=5, color=GRAY, labelsize=12, labelcolor=TXT, pad=6)
ax_b.plot(e1_x, e1_y, color='#1a12a8', lw=2.3, label='E1')
ax_b.plot(e2_x, e2_y, color='#ff0000', lw=2.3, label='E2', zorder=4)
ax_b.plot(e3_x, e3_y, color='#14c814', lw=2.3, label='E3')
ax_b.plot(e4_x, e4_y, color='#7030a0', lw=2.3, label='E4')
ax_b.plot([0, 157.5], [b_thresh, b_thresh], color='#ee1c25', lw=1.2, ls=(0, (2.5, 1.2)))
ax_b.set_ylabel('Lod value', fontsize=14.5, color=TXT)
ax_b.yaxis.set_label_coords(-0.087, 0.53)
ax_b.text(35.9, 6.53, 'Chr2. 9986172', fontsize=14.5, color=TXT, va='center')
b_lines, b_names = ax_b.get_legend_handles_labels()
ax_b.legend([b_lines[0], b_lines[2], b_lines[1], b_lines[3]], [b_names[0], b_names[2], b_names[1], b_names[3]],
            ncol=2, loc='center', bbox_to_anchor=(0.733, 0.642), frameon=False, fontsize=13, handlelength=1.95,
            handletextpad=0.4, columnspacing=1.65, labelspacing=0.97, labelcolor=TXT)

# QTL bars under panel B
ax_q = px_axes(78, 772, 578, 872)
ax_q.set_xlim(0, 159.2)
ax_q.set_ylim(872, 772)
ax_q.axis('off')
qtl_y = [781, 797, 811, 829, 846, 864]
qtl_label_x = [88, 88, 100, 124, 126, 139]
qtl_label_y = [780, 799, 815, 829, 846, 864]
for i, name in enumerate(qtl_names):
    ax_q.plot([qtl_start[i], qtl_end[i]], [qtl_y[i], qtl_y[i]], color=qtl_colors[i], lw=3.6, solid_capstyle='butt')
    ax_q.text((qtl_label_x[i] - 78) / 3.14, qtl_label_y[i], name, ha='right', va='center', fontsize=12, color=TXT)

# genome browser strip
ax_g = px_axes(191, 775, 575, 872)
ax_g.set_xlim(9.8979, 10.0326)
ax_g.set_ylim(872, 775)
ax_g.axis('off')
for yy in (780, 811, 828, 865):
    ax_g.axhline(yy, color='#555555', lw=1.2)
for i in range(len(ruler_edges) - 1):
    col = 'black' if i % 2 == 0 else 'white'
    ax_g.add_patch(Rectangle((ruler_edges[i], 784), ruler_edges[i + 1] - ruler_edges[i], 4, fc=col, ec='#888888', lw=0.4))
ax_g.add_patch(Rectangle((9.8979, 830), 0.1347, 16, fc='#ff0a50', ec='none'))
for a, b in contig_dark:
    ax_g.add_patch(Rectangle((max(a, 9.8979), 830), b - max(a, 9.8979), 16, fc='#bb0000', ec='none'))
for a, b in zip(exon_start, exon_end):
    ax_g.add_patch(Rectangle((a, 850), b - a, 8, fc='#00c400', ec='none'))
ax_g.text(9.9000, 799, '9.90 Mb', fontsize=10.5, color=TXT, va='center', family='Liberation Sans')
ax_g.text(9.9490, 799, '9.95 Mb', fontsize=10.5, color=TXT, va='center', family='Liberation Sans')
ax_g.text(9.9990, 799, '10.00 Mb', fontsize=10.5, color=TXT, va='center', family='Liberation Sans')
for mb in (9.90, 9.95, 10.00):
    ax_g.plot([mb, mb], [788, 792], color='#555555', lw=0.8)
ax_g.text(9.9316, 838, '< AC185288.3-Contig170', fontsize=7.6, color='white', ha='center', va='center',
          family='Liberation Sans Narrow')
ax_g.text(9.9847, 838, '< AC194437.3-Contig168', fontsize=7.6, color='white', ha='center', va='center',
          family='Liberation Sans Narrow')

# panel C
ax_c = px_axes(689, 433, 997, 774, facecolor='#ebebeb')
ax_c.set_xlim(-0.62, 2.61)
ax_c.set_ylim(0.135, 0.431)
ax_c.set_axisbelow(True)
for s in ax_c.spines.values():
    s.set_visible(False)
ax_c.yaxis.set_major_locator(MultipleLocator(0.1))
ax_c.yaxis.set_minor_locator(MultipleLocator(0.05))
ax_c.grid(True, which='major', color='white', lw=1.2)
ax_c.grid(True, which='minor', axis='y', color='white', lw=0.7)
ax_c.set_xticks(range(3))
ax_c.set_xticklabels(env_labels)
ax_c.tick_params(axis='x', which='both', length=3, color='#555555', labelsize=14, labelcolor=TXT, pad=13)
ax_c.tick_params(axis='y', which='major', length=3, color='#555555', labelsize=13, labelcolor=TXT, pad=2)
ax_c.tick_params(axis='y', which='minor', length=0)
stats_aa = [dict(q1=aa_q1[i], med=aa_med[i], q3=aa_q3[i], whislo=aa_lo[i], whishi=aa_hi[i], fliers=aa_out[i]) for i in range(3)]
stats_gg = [dict(q1=gg_q1[i], med=gg_med[i], q3=gg_q3[i], whislo=gg_lo[i], whishi=gg_hi[i], fliers=gg_out[i]) for i in range(3)]
for stats, off, col in ((stats_aa, -0.15, '#f8766d'), (stats_gg, 0.15, '#00bfc4')):
    ax_c.bxp(stats, positions=[i + off for i in range(3)], widths=0.3, patch_artist=True, showcaps=False, manage_ticks=False,
             boxprops=dict(facecolor=col, edgecolor='#555555', lw=1),
             medianprops=dict(color='#333333', lw=1.8),
             whiskerprops=dict(color='#555555', lw=1.2),
             flierprops=dict(marker='o', ms=2.2, mfc='#222222', mec='#222222'))
for i, p in enumerate(p_text):
    ax_c.text([-0.03, 1.03, 1.98][i], 0.358, '$\\mathit{P}$ = ' + p, ha='center', va='center', fontsize=12, color=TXT)
ax_c.set_ylabel('Shape', fontsize=14, color=TXT)
ax_c.yaxis.set_label_coords(-0.115, 0.648)

# panel D
ax_d = px_axes(96, 888, 1020, 1040)
ax_d.set_xlim(0, 210)
ax_d.set_ylim(0.25, 0.4)
gray_spines(ax_d, ['left', 'bottom', 'right'])
ax_d.xaxis.set_major_locator(MultipleLocator(10))
ax_d.xaxis.set_minor_locator(MultipleLocator(2))
ax_d.tick_params(axis='x', which='both', length=5, color=GRAY, labelsize=12, labelcolor=TXT, pad=7)
ax_d.set_yticks(d_pi_ticks)
ax_d.set_yticklabels(d_pi_labels)
ax_d.tick_params(axis='y', length=6, color=GRAY, labelsize=12, labelcolor=TXT, pad=3)
ax_d.scatter(d_mb, d_pi, s=9, color='#ee1111', linewidths=0, clip_on=False, zorder=3)
ax_d.axhline(d_pi_mean, color='#ee1111', lw=1.2, ls=(0, (3, 1.2)))
ax_d.set_xlabel('Chromosome2 (Mb)', fontsize=15, color=TXT)
ax_d.xaxis.set_label_coords(0.505, -0.29)
ax_d.set_ylabel('\u03c0', fontsize=20, color=TXT, labelpad=6)
ax_t = ax_d.twinx()
ax_t.set_ylim(3, 5)
gray_spines(ax_t, ['right'])
ax_t.set_yticks(d_taj_ticks)
ax_t.set_yticklabels(d_taj_labels)
ax_t.tick_params(axis='y', length=6, color=GRAY, labelsize=12, labelcolor=TXT, pad=5)
ax_t.scatter(d_mb, d_taj, s=9, color='black', linewidths=0, clip_on=False, zorder=3)
ax_t.axhline(d_taj_mean, color='black', lw=1.2, ls=(0, (3, 1.2)))
ax_t.set_ylabel('Tajima\u2019s D', fontsize=14.5, color=TXT, rotation=270, labelpad=15)

# overlay for panel letters, dashed guides and the panel C legend, pixel coordinates
ov = fig.add_axes([0, 0, 1, 1], zorder=20)
ov.set_xlim(0, W)
ov.set_ylim(H, 0)
ov.axis('off')
for letter, lx, ly in [('A', 12, 23), ('B', 12, 438), ('C', 645, 437), ('D', 11, 872)]:
    ov.text(lx, ly, letter, fontsize=16.5, fontweight='bold', family='Liberation Sans', color='black', va='center')
dash = (0, (3.6, 2.2))
ov.plot([219, 219], [83, 375], color=DASH, lw=2.2, ls=dash)
for x0 in (141, 153):
    ov.plot([x0, x0], [440, 1040], color=DASH, lw=2.2, ls=dash)
for start, end in [((219, 80), (846, 236)), ((222, 375), (150, 428)), ((222, 372), (630, 438))]:
    ov.annotate('', xy=end, xytext=start, arrowprops=dict(arrowstyle='->', color=DASH, lw=2.2, ls=dash,
                                                          mutation_scale=18, shrinkA=0, shrinkB=0))
ov.add_patch(Rectangle((436, 839), 57, 31, fill=False, ec='black', lw=2.4))
ov.text(1010, 571, 'Genotype', fontsize=15, color=TXT, va='center')
key_rows = [(600, '#f8766d', 'AA (n=34 )', 1037), (620, '#00bfc4', 'GG (n=13 )', 1035)]
for ky, kc, kt, tx in key_rows:
    ov.add_patch(Rectangle((1010, ky - 10), 21, 20, fc='#ebebeb', ec='none'))
    ov.plot([1020.5, 1020.5], [ky - 9, ky + 9], color='#555555', lw=1)
    ov.add_patch(Rectangle((1012.5, ky - 5.5), 16, 11, fc=kc, ec='#555555', lw=0.9, zorder=3))
    ov.plot([1012.5, 1028.5], [ky, ky], color='#333333', lw=1.2, zorder=4)
    ov.text(tx, ky, kt, fontsize=14.4, color=TXT, va='center')

fig.savefig('out.png', dpi=100)
